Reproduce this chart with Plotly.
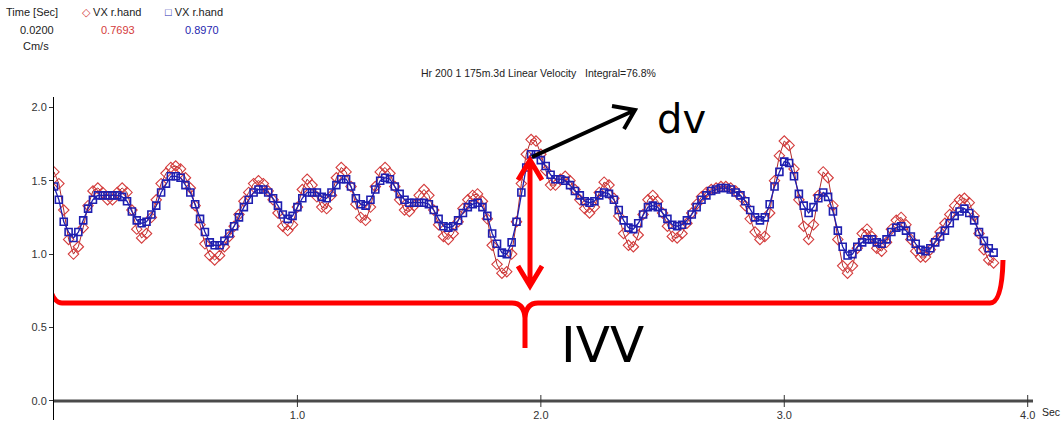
import numpy as np
import plotly.graph_objects as go

# ---------------- data ----------------
sample_dt = 0.02  # seconds between samples (Time [Sec] 0.0200)

vx_red = [
    1.56, 1.48, 1.30, 1.10, 1.00, 1.05, 1.18, 1.33, 1.43, 1.45,
    1.42, 1.37, 1.37, 1.42, 1.45, 1.42, 1.30, 1.17, 1.11, 1.14,
    1.25, 1.37, 1.48, 1.55, 1.59, 1.60, 1.58, 1.52, 1.45, 1.33,
    1.20, 1.07, 0.99, 0.96, 0.99, 1.05, 1.12, 1.19, 1.27, 1.36,
    1.42, 1.48, 1.50, 1.48, 1.43, 1.37, 1.28, 1.19, 1.16, 1.20,
    1.32, 1.44, 1.51, 1.47, 1.39, 1.32, 1.31, 1.40, 1.52, 1.59,
    1.56, 1.46, 1.34, 1.25, 1.23, 1.32, 1.46, 1.56, 1.59, 1.55,
    1.46, 1.37, 1.30, 1.29, 1.33, 1.40, 1.44, 1.40, 1.30, 1.20,
    1.12, 1.10, 1.14, 1.22, 1.31, 1.37, 1.40, 1.41, 1.36, 1.24,
    1.06, 0.93, 0.87, 0.88, 1.00, 1.22, 1.48, 1.68, 1.78, 1.77,
    1.68, 1.57, 1.47, 1.47, 1.51, 1.53, 1.50, 1.44, 1.37, 1.31,
    1.28, 1.32, 1.42, 1.49, 1.47, 1.38, 1.26, 1.14, 1.06, 1.05,
    1.13, 1.27, 1.37, 1.40, 1.36, 1.28, 1.19, 1.12, 1.11, 1.14,
    1.21, 1.28, 1.34, 1.39, 1.42, 1.44, 1.45, 1.46, 1.46, 1.45,
    1.43, 1.39, 1.33, 1.24, 1.15, 1.10, 1.12, 1.28, 1.50, 1.67,
    1.77, 1.74, 1.58, 1.37, 1.19, 1.10, 1.20, 1.40, 1.56, 1.52,
    1.33, 1.10, 0.92, 0.87, 0.92, 1.04, 1.14, 1.17, 1.12, 1.04,
    1.02, 1.08, 1.17, 1.23, 1.25, 1.20, 1.10, 1.02, 0.98, 0.98,
    1.03, 1.09, 1.15, 1.21, 1.27, 1.33, 1.37, 1.38, 1.35, 1.26,
    1.14, 1.03, 0.96, 0.94,
]

vx_blue = [
    1.46, 1.37, 1.22, 1.15, 1.11, 1.15, 1.23, 1.31, 1.37, 1.40,
    1.40, 1.40, 1.40, 1.40, 1.39, 1.36, 1.29, 1.23, 1.21, 1.22,
    1.27, 1.33, 1.42, 1.48, 1.53, 1.53, 1.52, 1.47, 1.42, 1.34,
    1.24, 1.15, 1.08, 1.06, 1.06, 1.09, 1.14, 1.19, 1.25, 1.32,
    1.37, 1.42, 1.44, 1.44, 1.42, 1.38, 1.33, 1.27, 1.24, 1.26,
    1.32, 1.38, 1.42, 1.42, 1.42, 1.39, 1.38, 1.42, 1.47, 1.51,
    1.51, 1.46, 1.38, 1.34, 1.33, 1.37, 1.44, 1.50, 1.52, 1.51,
    1.46, 1.41, 1.37, 1.35, 1.35, 1.35, 1.35, 1.34, 1.30, 1.24,
    1.19, 1.18, 1.19, 1.23, 1.28, 1.32, 1.34, 1.35, 1.32, 1.26,
    1.14, 1.07, 1.01, 1.00, 1.08, 1.22, 1.42, 1.59, 1.68, 1.68,
    1.64, 1.60, 1.54, 1.51, 1.51, 1.50, 1.47, 1.43, 1.40, 1.36,
    1.35, 1.36, 1.40, 1.42, 1.41, 1.37, 1.30, 1.23, 1.18, 1.17,
    1.21, 1.27, 1.32, 1.33, 1.32, 1.28, 1.24, 1.20, 1.19, 1.20,
    1.23, 1.27, 1.32, 1.37, 1.40, 1.43, 1.44, 1.45, 1.45, 1.44,
    1.42, 1.40, 1.36, 1.30, 1.25, 1.23, 1.25, 1.34, 1.46, 1.56,
    1.63, 1.62, 1.53, 1.41, 1.33, 1.28, 1.32, 1.38, 1.42, 1.39,
    1.29, 1.16, 1.05, 0.99, 1.00, 1.05, 1.08, 1.10, 1.10, 1.08,
    1.07, 1.10, 1.15, 1.18, 1.19, 1.16, 1.12, 1.07, 1.03, 1.02,
    1.04, 1.08, 1.12, 1.16, 1.21, 1.26, 1.29, 1.31, 1.28, 1.23,
    1.15, 1.09, 1.04, 1.01,
]

x_tickvals = [1.0, 2.0, 3.0, 4.0]
x_ticktext = ["1.0", "2.0", "3.0", "4.0"]
y_tickvals = [0.0, 0.5, 1.0, 1.5, 2.0]
y_ticktext = ["0.0", "0.5", "1.0", "1.5", "2.0"]

title_text = "Hr 200 1 175m.3d Linear Velocity\u00a0\u00a0\u00a0Integral=76.8%"
series_name = "VX r.hand"
cursor_time = "0.0200"
cursor_red = "0.7693"
cursor_blue = "0.8970"

time = np.arange(len(vx_blue)) * sample_dt

# ---------------- layout geometry ----------------
W, H = 1061, 430
ML, MR, MT, MB = 54, 26, 97, 10
XR = [0.0, 4.03]
YR = [-0.13, 2.07]
PW = W - ML - MR
PH = H - MT - MB


def dx(px):  # pixel -> data x
    return XR[0] + (px - ML) / PW * (XR[1] - XR[0])


def dy(py):  # pixel -> data y
    return YR[0] + (H - MB - py) / PH * (YR[1] - YR[0])


def ppx(px):  # pixel -> paper x
    return (px - ML) / PW


def ppy(py):  # pixel -> paper y
    return (H - MB - py) / PH


def path(cmds):
    out = []
    for c in cmds:
        if isinstance(c, str):
            out.append(c)
        else:
            out.append(f"{dx(c[0]):.5f},{dy(c[1]):.5f}")
    return " ".join(out)


RED = "#d43c3c"
BLUE = "#1f1fb0"
NARROW = "Liberation Sans Narrow, Arial Narrow, Liberation Sans, sans-serif"

fig = go.Figure()
fig.add_trace(go.Scatter(
    x=time, y=vx_red, mode="lines+markers", name=series_name,
    line=dict(color="#b22a2a", width=1),
    marker=dict(symbol="diamond-open", size=8, color=RED, line=dict(width=1.1, color=RED)),
))
fig.add_trace(go.Scatter(
    x=time, y=vx_blue, mode="lines+markers", name=series_name,
    line=dict(color=BLUE, width=1.3),
    marker=dict(symbol="square-open", size=7, color=BLUE, line=dict(width=1.6, color=BLUE)),
))

shapes = []
# red curly brace (IVV)
shapes.append(dict(
    type="path", xref="x", yref="y",
    path=path(["M", (47, 259), "Q", (48, 303), (62, 303), "L", (512, 303),
               "Q", (524, 303), (525, 318), "L", (525, 348),
               "M", (525, 318), "Q", (526, 303), (538, 303), "L", (990, 303),
               "Q", (1002, 303), (1003, 260)]),
    line=dict(color="#ff0000", width=5),
))
# red double arrow
shapes.append(dict(
    type="path", xref="x", yref="y",
    path=path(["M", (530, 162), "L", (530, 284),
               "M", (518, 266), "L", (530, 286), "L", (542, 266),
               "M", (518, 180), "L", (530, 160), "L", (542, 180)]),
    line=dict(color="#ff0000", width=5),
))
# black arrow to "dv"
shapes.append(dict(
    type="path", xref="x", yref="y",
    path=path(["M", (532, 157), "L", (633, 111),
               "M", (612, 106), "L", (635, 110), "L", (624, 129)]),
    line=dict(color="#000000", width=4),
))
# x axis line at y = 0 and tick marks crossing it
shapes.append(dict(type="line", xref="x", yref="y",
                   x0=dx(49), x1=dx(1033), y0=0, y1=0,
                   line=dict(color="#4a4a4a", width=3)))
for tv in x_tickvals:
    shapes.append(dict(type="line", xref="x", yref="y",
                       x0=tv, x1=tv, y0=dy(395), y1=dy(407),
                       line=dict(color="#333333", width=1)))

annotations = []


def txt(text, x, y, xanchor="left", yanchor="middle", size=12, color="#222222", family=NARROW):
    annotations.append(dict(
        text=text, x=ppx(x), y=ppy(y), xref="paper", yref="paper",
        xanchor=xanchor, yanchor=yanchor, showarrow=False,
        font=dict(size=size, color=color, family=family),
    ))


txt("Time [Sec]", 4, 12, size=11)
txt(f"<span style='color:{RED}'>\u25c7</span> {series_name}", 80, 12, size=11)
txt(f"<span style='color:{BLUE}'>\u25a1</span> {series_name}", 163, 12, size=11)
txt(cursor_time, 56, 30, xanchor="right", size=11)
txt(cursor_red, 137, 30, xanchor="right", color=RED, size=11)
txt(cursor_blue, 221, 30, xanchor="right", color=BLUE, size=11)
txt("Cm/s", 21, 46, size=11)
txt(title_text, 538, 73, xanchor="center", size=10.5)
txt("Sec", 1040, 412, size=10.5)
txt("dv", 655, 119, size=40, color="#000000", family="DejaVu Sans, sans-serif")
txt("IVV", 559, 345, size=50, color="#000000", family="DejaVu Sans, sans-serif")

fig.update_layout(
    width=W, height=H,
    margin=dict(l=ML, r=MR, t=MT, b=MB, pad=0, autoexpand=False),
    paper_bgcolor="white", plot_bgcolor="white",
    showlegend=False,
    shapes=shapes,
    annotations=annotations,
    xaxis=dict(
        range=XR, anchor="free", position=(0 - YR[0]) / (YR[1] - YR[0]),
        automargin=False,
        showgrid=False, zeroline=False, showline=False,
        tickvals=x_tickvals, ticktext=x_ticktext,
        ticks="", ticklabelstandoff=6,
        tickfont=dict(family=NARROW, size=11, color="#333333"),
    ),
    yaxis=dict(
        range=YR, automargin=False,
        showgrid=False, zeroline=False,
        showline=True, linecolor="#000000", linewidth=1,
        tickvals=y_tickvals, ticktext=y_ticktext,
        ticks="outside", ticklen=4, tickcolor="#333333", tickwidth=1,
        tickfont=dict(family=NARROW, size=11, color="#333333"),
    ),
)

fig.write_html("out.html", config={"displayModeBar": False},
               post_script="document.body.style.margin='0';")
